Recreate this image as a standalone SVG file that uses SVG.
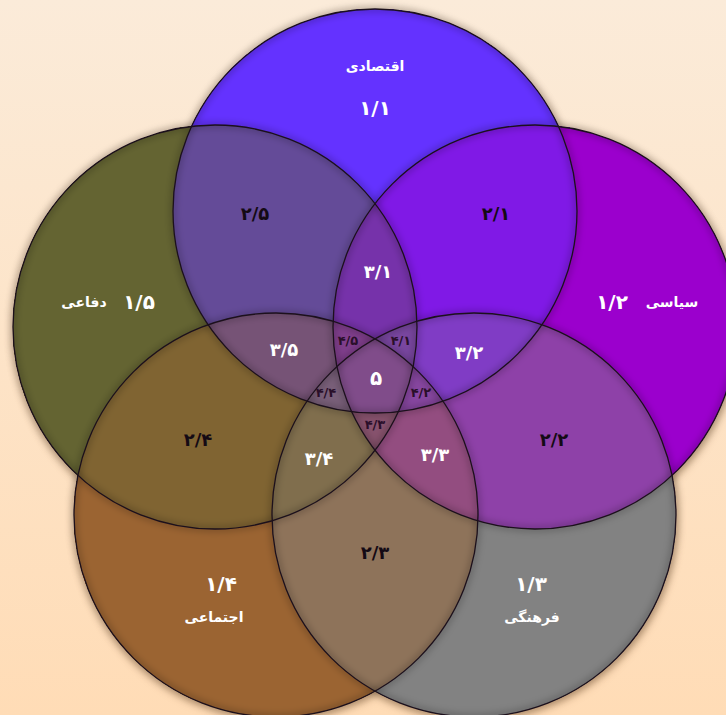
<svg xmlns="http://www.w3.org/2000/svg" width="726" height="715" viewBox="0 0 726 715">
  <defs>
    <linearGradient id="bg" x1="0" y1="0" x2="0" y2="1">
      <stop offset="0" stop-color="#FBEBD9"/>
      <stop offset="1" stop-color="#FFDCB6"/>
    </linearGradient>
    <filter id="avg" x="-5%" y="-5%" width="110%" height="110%" color-interpolation-filters="sRGB">
      <feComponentTransfer in="SourceGraphic" result="solid">
        <feFuncA type="linear" slope="40" intercept="0"/>
      </feComponentTransfer>
      <feGaussianBlur in="solid" stdDeviation="5" result="blur"/>
      <feOffset in="blur" dx="1" dy="3" result="off"/>
      <feFlood flood-color="#8a5a30" flood-opacity="0.45"/>
      <feComposite in2="off" operator="in" result="shadow"/>
      <feMerge>
        <feMergeNode in="shadow"/>
        <feMergeNode in="solid"/>
      </feMerge>
    </filter>
    <filter id="soft" x="-5%" y="-5%" width="110%" height="110%">
      <feGaussianBlur stdDeviation="3"/>
    </filter>
  </defs>
  <style>
    .fill { fill-opacity: 0.2; }
    .node { mix-blend-mode: plus-lighter; }
    .edge { fill: none; stroke: #1c101c; stroke-width: 1.3; }
    .halo { fill: none; stroke: #000; stroke-width: 7; stroke-opacity: 0.18; }
    text { font-family: "DejaVu Sans", "Noto Sans", sans-serif; font-weight: bold; text-anchor: middle; }
    .w { fill: #ffffff; }
    .k { fill: #140a14; }
    .d { fill: #2a0f2a; }
    .num { font-size: 20px; }
    .mid { font-size: 18px; }
    .sm { font-size: 13px; }
    .lbl { font-size: 14px; }
  </style>
  <rect x="0" y="0" width="726" height="715" fill="url(#bg)"/>

  <g id="venn" filter="url(#avg)">
    <g id="node-eqtesadi" class="node"><circle class="fill" cx="375" cy="211" r="202" fill="#6633FF"/></g>
    <g id="node-siasi" class="node"><circle class="fill" cx="535" cy="327" r="202" fill="#9900CC"/></g>
    <g id="node-farhangi" class="node"><circle class="fill" cx="474" cy="515" r="202" fill="#808080"/></g>
    <g id="node-ejtemai" class="node"><circle class="fill" cx="276" cy="515" r="202" fill="#996633"/></g>
    <g id="node-defai" class="node"><circle class="fill" cx="215" cy="327" r="202" fill="#666633"/></g>
  </g>

  <g id="outlines-soft" filter="url(#soft)">
    <circle class="halo" cx="375" cy="211" r="202"/>
    <circle class="halo" cx="535" cy="327" r="202"/>
    <circle class="halo" cx="474" cy="515" r="202"/>
    <circle class="halo" cx="276" cy="515" r="202"/>
    <circle class="halo" cx="215" cy="327" r="202"/>
  </g>
  <g id="outlines">
    <circle class="edge" cx="375" cy="211" r="202"/>
    <circle class="edge" cx="535" cy="327" r="202"/>
    <circle class="edge" cx="474" cy="515" r="202"/>
    <circle class="edge" cx="276" cy="515" r="202"/>
    <circle class="edge" cx="215" cy="327" r="202"/>
  </g>

  <g id="labels">
    <text class="w lbl" x="375" y="71">اقتصادی</text>
    <text class="w num" x="375" y="115">۱/۱</text>
    <text class="k mid" x="255" y="220">۲/۵</text>
    <text class="k mid" x="496" y="220">۲/۱</text>
    <text class="w mid" x="378" y="278">۳/۱</text>
    <text class="w num" x="139" y="309">۱/۵</text>
    <text class="w lbl" x="84" y="307">دفاعی</text>
    <text class="w num" x="612" y="309">۱/۲</text>
    <text class="w lbl" x="672" y="307">سیاسی</text>
    <text class="w mid" x="284" y="356">۳/۵</text>
    <text class="d sm" x="348" y="345">۴/۵</text>
    <text class="d sm" x="401" y="345">۴/۱</text>
    <text class="w mid" x="469" y="359">۳/۲</text>
    <text class="w num" x="376" y="385">۵</text>
    <text class="d sm" x="326" y="397">۴/۴</text>
    <text class="d sm" x="421" y="397">۴/۲</text>
    <text class="d sm" x="375" y="429">۴/۳</text>
    <text class="k mid" x="198" y="446">۲/۴</text>
    <text class="w mid" x="319" y="465">۳/۴</text>
    <text class="w mid" x="435" y="461">۳/۳</text>
    <text class="k mid" x="554" y="446">۲/۲</text>
    <text class="k mid" x="375" y="559">۲/۳</text>
    <text class="w num" x="221" y="591">۱/۴</text>
    <text class="w lbl" x="214" y="622">اجتماعی</text>
    <text class="w num" x="531" y="591">۱/۳</text>
    <text class="w lbl" x="532" y="622">فرهنگی</text>
  </g>
</svg>
